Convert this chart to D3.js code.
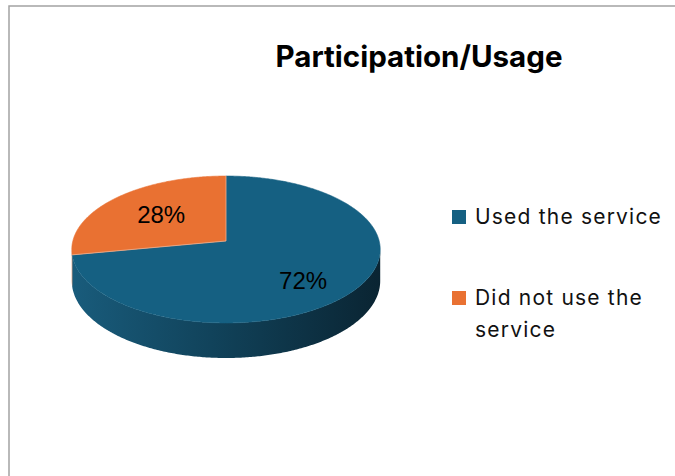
<!DOCTYPE html>
<html>
<head>
<meta charset="utf-8">
<script src="https://cdn.jsdelivr.net/npm/d3@7"></script>
<style>
  html, body { margin: 0; padding: 0; background: #fff; }
  svg { display: block; }
</style>
</head>
<body>
<svg id="chart" width="675" height="476"></svg>
<script>
// Survey result: share of respondents who used the service
const title = "Participation/Usage";
const categories = ["Used the service", "Did not use the service"];
const values = [72, 28];
const valueLabels = ["72%", "28%"];
const legendLines = [["Used the service"], ["Did not use the", "service"]];
const colors = ["#156082", "#E97132"];

const svg = d3.select("#chart");

// chart frame (left and top edges)
svg.append("path")
  .attr("d", "M9,476 L9,6 L675,6")
  .attr("fill", "none")
  .attr("stroke", "#a3a3a3")
  .attr("stroke-width", 1.5);

// title
const titleText = svg.append("text")
  .attr("x", 419).attr("y", 67)
  .attr("text-anchor", "middle")
  .attr("font-family", "Inter, 'Open Sans', sans-serif")
  .attr("font-weight", 700)
  .attr("font-size", 27)
  .attr("fill", "#000")
  .text(title);

function fitWidth(sel, target) {
  const w = sel.node().getComputedTextLength();
  const fs = parseFloat(sel.attr("font-size"));
  sel.attr("font-size", (fs * target / w).toFixed(2));
}
fitWidth(titleText, 287);

// ---- 3D pie with perspective ----
const color = d3.scaleOrdinal().domain(categories).range(colors);
const pie = d3.pie().sort(null).value(d => d.value);
const arcs = pie(categories.map((c, i) => ({ name: c, value: values[i], label: valueLabels[i] })));

const cx = 226, cy = 241;     // projected pie centre
const D = 8.65;               // viewer distance (in radii)
const A = 1325, B = 627;      // horizontal / vertical projection factors
const H = 31;                 // pie thickness

// angle a is clockwise from 12 o'clock (far side), r in [0,1]
function project(a, r, drop) {
  const den = D + r * Math.cos(a);
  const x = cx + A * r * Math.sin(a) / den;
  const y = cy - B * r * Math.cos(a) / den;
  const z = drop ? H * D / den : 0;
  return [x, y + z];
}

function arcPoints(a0, a1, r, drop) {
  const n = Math.max(2, Math.ceil(Math.abs(a1 - a0) / 0.01));
  const pts = [];
  for (let i = 0; i <= n; i++) pts.push(project(a0 + (a1 - a0) * i / n, r, drop));
  return pts;
}

const line = d3.line();

// visible part of the rim (between the two silhouette tangents)
const tA = Math.acos(-1 / D);          // right tangent
const tB = 2 * Math.PI - tA;           // left tangent

const defs = svg.append("defs");
const grad = defs.append("linearGradient")
  .attr("id", "wallBlue")
  .attr("gradientUnits", "userSpaceOnUse")
  .attr("x1", 70).attr("x2", 382).attr("y1", 0).attr("y2", 0);
grad.append("stop").attr("offset", 0).attr("stop-color", "#195c7c");
grad.append("stop").attr("offset", 0.45).attr("stop-color", "#11435b");
grad.append("stop").attr("offset", 1).attr("stop-color", "#0a2432");

const gradO = defs.append("linearGradient")
  .attr("id", "wallOrange")
  .attr("gradientUnits", "userSpaceOnUse")
  .attr("x1", 70).attr("x2", 382).attr("y1", 0).attr("y2", 0);
gradO.append("stop").attr("offset", 0).attr("stop-color", "#c95f28");
gradO.append("stop").attr("offset", 1).attr("stop-color", "#6a2f12");

const walls = svg.append("g");
arcs.forEach((d, i) => {
  const a0 = Math.max(d.startAngle, tA);
  const a1 = Math.min(d.endAngle, tB);
  if (a1 <= a0) return;
  const top = arcPoints(a0, a1, 1, false);
  const bottom = arcPoints(a1, a0, 1, true);
  walls.append("path")
    .attr("d", line(top.concat(bottom)) + "Z")
    .attr("fill", i === 0 ? "url(#wallBlue)" : "url(#wallOrange)");
});

// top faces
const tops = svg.append("g");
arcs.forEach(d => {
  const pts = [project(0, 0, false)].concat(arcPoints(d.startAngle, d.endAngle, 1, false));
  tops.append("path")
    .attr("d", line(pts) + "Z")
    .attr("fill", color(d.data.name))
    .attr("stroke", color(d.data.name))
    .attr("stroke-width", 0.6)
    .attr("stroke-linejoin", "round");
});
// thin highlight between slices
arcs.forEach(d => {
  tops.append("path")
    .attr("d", line([project(0, 0, false), project(d.startAngle, 1, false)]))
    .attr("stroke", "rgba(255,255,255,0.45)")
    .attr("stroke-width", 0.8)
    .attr("fill", "none");
});

// value labels
const labelG = svg.append("g");
arcs.forEach(d => {
  const mid = (d.startAngle + d.endAngle) / 2;
  const p = project(mid, 0.6, false);
  const extra = (H / 2) * Math.max(0, -Math.cos(mid));
  labelG.append("text")
    .attr("x", p[0] + 3).attr("y", p[1] + extra)
    .attr("dy", "0.36em")
    .attr("text-anchor", "middle")
    .attr("font-family", "'Liberation Sans', Arial, sans-serif")
    .attr("font-size", 24)
    .attr("fill", "#000")
    .text(d.data.label);
});

// legend
const legend = svg.append("g");
const legendY = [224, 305];
const legendTexts = [];
categories.forEach((c, i) => {
  legend.append("rect")
    .attr("x", 452).attr("y", legendY[i] - 14)
    .attr("width", 14).attr("height", 14)
    .attr("fill", color(c));
  const t = legend.append("text")
    .attr("x", 475).attr("y", legendY[i])
    .attr("font-family", "Inter, 'Open Sans', sans-serif")
    .attr("font-size", 21)
    .attr("fill", "#111");
  legendLines[i].forEach((ln, j) => {
    t.append("tspan")
      .attr("x", 475)
      .attr("dy", j === 0 ? 0 : 32)
      .text(ln);
  });
  legendTexts.push(t);
});
// widen the tracking so the first entry spans its full width
const firstLen = legendTexts[0].node().getComputedTextLength();
const nChars = legendLines[0][0].length;
const spacing = (187 - firstLen) / nChars;
legendTexts.forEach(t => t.attr("letter-spacing", spacing.toFixed(2)));
</script>
</body>
</html>
